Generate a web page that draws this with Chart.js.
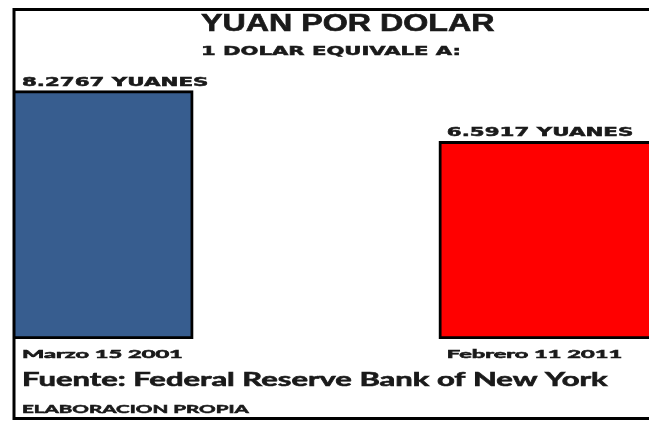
<!DOCTYPE html>
<html>
<head>
<meta charset="utf-8">
<title>Yuan por dolar</title>
<script src="https://cdn.jsdelivr.net/npm/chart.js@4.4.0/dist/chart.umd.min.js"></script>
<style>
  html, body { margin: 0; padding: 0; background: #fff; }
  #wrap { width: 649px; height: 421px; position: relative; }
</style>
</head>
<body>
<div id="wrap"><canvas id="chart"></canvas></div>
<script>
// data
var categories = ['Marzo 15 2001', 'Febrero 11 2011'];
var yuanesPorDolar = [8.2767, 6.5917];
var barColors = ['#375d8f', '#ff0000'];
var titleText = 'YUAN POR DOLAR';
var subtitleText = '1 DOLAR EQUIVALE A:';
var sourceText = 'Fuente: Federal Reserve Bank of New York';
var footerText = 'ELABORACION PROPIA';

var textColor = '#1a1a1a';

// text is stretched sideways in the original, so each style has its own x scale
function drawText(ctx, text, x, y, font, sx, heavy) {
    ctx.save();
    ctx.font = font;
    ctx.fillStyle = textColor;
    ctx.strokeStyle = textColor;
    ctx.lineWidth = heavy;
    ctx.textAlign = 'left';
    ctx.textBaseline = 'alphabetic';
    ctx.translate(x, y);
    ctx.scale(sx, 1);
    ctx.fillText(text, 0, 0);
    if (heavy) ctx.strokeText(text, 0, 0);
    ctx.restore();
}

var framePlugin = {
    id: 'frameAndLabels',
    afterDraw: function (chart) {
        var ctx = chart.ctx;
        var area = chart.chartArea;
        var meta = chart.getDatasetMeta(0);

        // outer frame
        ctx.save();
        ctx.strokeStyle = '#000';
        ctx.lineWidth = 3;
        ctx.strokeRect(14, 9.5, 640, 409);
        ctx.restore();

        drawText(ctx, titleText, 201, 31, 'bold 23px "Liberation Sans"', 1.40, 0.6);
        drawText(ctx, subtitleText, 201, 55, 'bold 12px "DejaVu Sans"', 1.76, 0.5);

        meta.data.forEach(function (bar, i) {
            var props = bar.getProps(['x', 'y', 'width'], true);
            var left = Math.max(props.x - props.width / 2, area.left) + 8;
            var label = yuanesPorDolar[i].toFixed(4) + ' YUANES';
            drawText(ctx, label, left, props.y - 5, 'bold 12px "DejaVu Sans"', 1.78, 0.5);
            drawText(ctx, categories[i], left, area.bottom + 19, 'bold 12px Lato', 1.97, 0.6);
        });

        drawText(ctx, sourceText, 22, 386, 'bold 18.5px Lato', 1.675, 0.6);
        drawText(ctx, footerText, 22, 413, 'bold 10.5px Lato', 1.96, 0.5);
    }
};

var ctx = document.getElementById('chart').getContext('2d');
var yuanChart = new Chart(ctx, {
    type: 'bar',
    data: {
        datasets: [{
            label: titleText,
            data: categories.map(function (c, i) {
                return { x: i + 1, y: yuanesPorDolar[i] };
            }),
            backgroundColor: barColors,
            borderColor: '#000',
            borderWidth: 3,
            borderSkipped: false,
            barThickness: 230,
            clip: 0
        }]
    },
    options: {
        responsive: true,
        maintainAspectRatio: false,
        animation: false,
        layout: { padding: { left: 14, right: 0, top: 39, bottom: 82 } },
        plugins: {
            legend: { display: false },
            tooltip: { enabled: false },
            title: { display: false }
        },
        scales: {
            x: { type: 'linear', min: 0.865, max: 2.2, offset: false, display: false },
            y: { min: 0, max: 10, display: false }
        }
    },
    plugins: [framePlugin]
});
</script>
</body>
</html>
